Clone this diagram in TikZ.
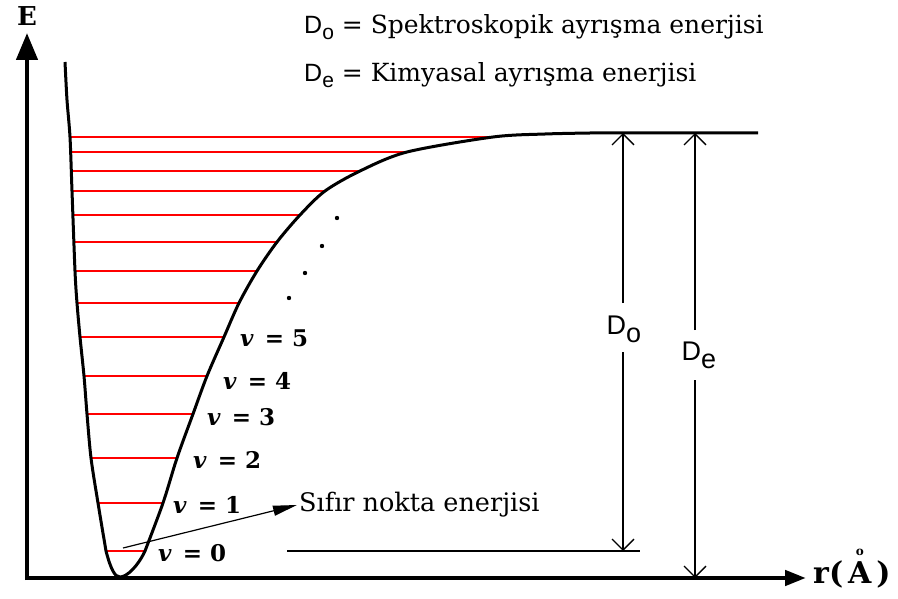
\documentclass[tikz,border=0pt]{standalone}
\usepackage{fontspec}
\setmainfont{DejaVu Serif}
\setsansfont{Liberation Sans}
\usetikzlibrary{arrows.meta}
\begin{document}
\begin{tikzpicture}[x=1pt,y=-1pt,
  vaxis/.style={line width=4.5pt,-{Triangle[length=27pt,width=21pt]}},
  haxis/.style={line width=4.5pt,-{Triangle[length=21pt,width=15pt]}},
  morse/.style={line width=3pt,line join=round},
  level/.style={line width=2.8pt,draw={rgb,255:red,255;green,0;blue,0}},
  dim/.style={line width=1.3pt,-{Straight Barb[length=11pt,width=22pt,line width=1.3pt]}},
  thin/.style={line width=1.3pt},
  zpe/.style={line width=1.2pt,-{Triangle[length=24pt,width=10pt]}},
  vlab/.style={anchor=west,inner sep=0pt,font=\fontsize{23}{23}\selectfont\bfseries},
  serif/.style={font=\fontsize{25}{25}\selectfont},
  dlab/.style={font=\sffamily\fontsize{27}{27}\selectfont,inner sep=0pt}
]
\useasboundingbox (0,0) rectangle (898,599);
% axes
\coordinate (O) at (27,580);
\coordinate (Etip) at (27,33);
\coordinate (O2) at (25,578);
\coordinate (rtip) at (806,578);
\draw[vaxis] (O) -- (Etip);
\draw[haxis] (O2) -- (rtip);
\node[font=\fontsize{26}{26}\selectfont\bfseries] (E) at (27,16) {E};
\node[anchor=west,font=\fontsize{30}{30}\selectfont\bfseries,inner sep=0pt] (rlab) at (813,574)
  {r(\,\ooalign{A\cr\hidewidth\raisebox{0.92em}{\fontsize{12}{12}\selectfont o}\hidewidth\cr}\,)};
% energy levels
\foreach \y/\xl/\xr in {551/106/144, 503/98/162, 458/91/176, 414/87/192, 376/84/206,
  337/80/223, 303/77/238, 271/75/257, 242/74/277, 215/73/300, 191/72/325,
  171/72/360, 152/71/407, 137/70/493}
  \draw[level] (\xl,\y) -- (\xr,\y);
% Morse curve
\draw[morse] plot[smooth,tension=0.5] coordinates {(65,62) (67,100) (70,137) (72,191) (75,271)
  (77,303) (80,337) (84,376) (87,414) (91,458) (98,503) (106,551)}
  .. controls (111,570) and (115,577) .. (120,577)
  .. controls (127,577) and (138,566) .. (145,551)
  -- plot[smooth,tension=0.5] coordinates {(145,551) (163,503) (177,458) (193,414) (207,376) (224,337) (239,303)
  (257,271) (277,242) (300,215) (325,191) (360,171) (407,152) (493,137) (545,134) (590,133)}
  -- (758,133);
% dots
\foreach \x/\y in {289/298, 305/273, 322/246, 337/218}
  \fill (\x,\y) circle (2.2pt);
% level labels
\newcommand\vl[1]{\textit{v}\hspace{11pt}=\hspace{8pt}#1}
\node[vlab] (v0) at (158,553) {\vl{0}};
\node[vlab] (v1) at (173,505) {\vl{1}};
\node[vlab] (v2) at (193,460) {\vl{2}};
\node[vlab] (v3) at (207,417) {\vl{3}};
\node[vlab] (v4) at (223,381) {\vl{4}};
\node[vlab] (v5) at (240,338) {\vl{5}};
% zero point energy
\node[font=\fontsize{25.5}{25.5}\selectfont,anchor=west,inner sep=2pt] (zp) at (297,505) {Sıfır nokta enerjisi};
\coordinate (zpstart) at (123,548);
\draw[zpe] (zpstart) -- (zp.west);
% baseline at v=0
\coordinate (bl1) at (287,551);
\coordinate (bl2) at (640,551);
\draw[thin] (bl1) -- (bl2);
% D0 arrow
\coordinate (dotop) at (623,133);
\coordinate (dobot) at (623,551);
\node[dlab] (dol) at (624,329) {D\raisebox{-0.3em}{o}};
\draw[dim] (dotop |- 0,303) -- (dotop);
\draw[dim] (dobot |- 0,352) -- (dobot);
% De arrow
\coordinate (detop) at (695,133);
\coordinate (debot) at (695,578);
\node[dlab] (del) at (699,355) {D\raisebox{-0.3em}{e}};
\draw[dim] (detop |- 0,330) -- (detop);
\draw[dim] (debot |- 0,380) -- (debot);
% legend
\node[serif,anchor=west,inner sep=0pt] (leg1) at (304,27)
  {{\sffamily\fontsize{25}{25}\selectfont D\raisebox{-0.25em}{\fontsize{21}{21}\selectfont o}} = Spektroskopik ayrışma enerjisi};
\node[serif,anchor=west,inner sep=0pt] (leg2) at (304,75)
  {{\sffamily\fontsize{25}{25}\selectfont D\raisebox{-0.25em}{\fontsize{21}{21}\selectfont e}} = Kimyasal ayrışma enerjisi};
\end{tikzpicture}
\end{document}
